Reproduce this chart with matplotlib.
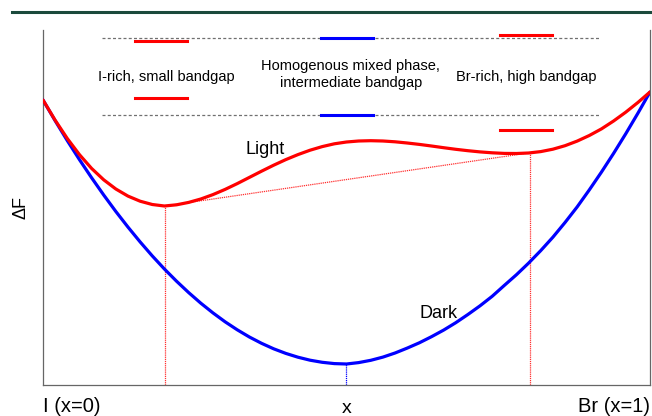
import numpy as np
import matplotlib
matplotlib.use('Agg')
import matplotlib.pyplot as plt
from matplotlib.lines import Line2D

plt.rcParams['font.family'] = ['Liberation Sans', 'DejaVu Sans']

# composition x (I -> Br), step 0.02, and free energy (arbitrary units)
comp = [round(0.02 * i, 2) for i in range(51)]
dark_F = [285, 264.3, 244.4, 225.4, 207.3, 190, 173.5, 157.9, 143.1, 129.1,
          116, 103.8, 92.4, 81.8, 72.1, 63.2, 55.2, 48, 41.7, 36.2,
          31.6, 27.8, 24.8, 22.7, 21.4, 21,
          22.4, 24.7, 27.9, 32, 36.9, 42.2, 48.3, 54.9, 62.3, 70.5,
          79.2, 88.7, 99.6, 110.3, 121.9, 134.4, 147.8, 162.5, 178.1, 195.1,
          212.9, 231.6, 251.2, 271.7, 293]
light_F = [285, 264.8, 246.5, 230.4, 216.6, 205.2, 196, 188.9, 183.8, 180.5,
           179, 180.2, 182.6, 186, 190.4, 195.6, 201.4, 207.6, 213.8, 219.8,
           225.4, 230.4, 234.8, 238.4, 241.2, 243, 244, 244.3, 244, 243.2,
           242, 240.6, 239, 237.3, 235.7, 234.3, 233.1, 232.2, 231.6, 231.5,
           232, 233.4, 235.8, 239.3, 243.9, 249.5, 256.1, 264, 272.8, 282.5, 293]

# common tangent and the compositions it picks out
tangent_x = [0.201, 0.802]
tangent_F = [179.0, 232.2]
dark_min_x = 0.5
dark_min_F = 21

# band-gap sketch at the top
dash_x = [0.097, 0.918]
dash_F = [347.3, 270]
bar_x = [[0.152, 0.238], [0.458, 0.544], [0.753, 0.839]]
bar_top_F = [344.3, 347.3, 350]
bar_low_F = [286.7, 270, 255]
bar_colors = ['red', 'blue', 'red']
phase_labels = ['I-rich, small bandgap',
                'Homogenous mixed phase,\nintermediate bandgap',
                'Br-rich, high bandgap']
phase_label_x = [0.203, 0.507, 0.796]
phase_label_F = [308.3, 310.5, 308.3]

fig = plt.figure(figsize=(6.52, 4.16), dpi=100)
ax = fig.add_axes([43/652, 31/416, 607/652, 355/416])

ax.plot(comp, dark_F, color='blue', lw=2.3, solid_capstyle='round', solid_joinstyle='round', zorder=3)
ax.plot(comp, light_F, color='red', lw=2.3, solid_capstyle='round', solid_joinstyle='round', zorder=3)

ax.plot(tangent_x, tangent_F, color='#ff3030', lw=0.9, dashes=(1, 0.7), zorder=2)
for tx, tf in zip(tangent_x, tangent_F):
    ax.plot([tx, tx], [0, tf], color='#ff3030', lw=0.9, dashes=(1, 0.7), zorder=2)
ax.plot([dark_min_x, dark_min_x], [0, dark_min_F], color='blue', lw=0.9, dashes=(1, 0.7), zorder=2)

for f in dash_F:
    ax.plot(dash_x, [f, f], color='#707070', lw=0.9, dashes=(2.4, 1.8), zorder=1)
for bx, ft, fl, c in zip(bar_x, bar_top_F, bar_low_F, bar_colors):
    ax.plot(bx, [ft, ft], color=c, lw=2.2, zorder=2)
    ax.plot(bx, [fl, fl], color=c, lw=2.2, zorder=2)
for lab, lx, lf in zip(phase_labels, phase_label_x, phase_label_F):
    ax.text(lx, lf, lab, ha='center', va='center', fontsize=10.5, linespacing=1.2)

ax.text(0.366, 235, 'Light', ha='center', va='center', fontsize=13)
ax.text(0.652, 71, 'Dark', ha='center', va='center', fontsize=13)

ax.set_xlim(0, 1)
ax.set_ylim(0, 355)
ax.set_yticks([])
ax.set_xticks([0, 1], ['I (x=0)', 'Br (x=1)'], fontsize=14.5)
ax.tick_params(axis='x', length=0, pad=9)
tl = ax.get_xticklabels()
tl[0].set_ha('left')
tl[1].set_ha('right')
ax.set_xlabel('x', fontsize=14)
ax.xaxis.set_label_coords(0.5, -0.041)
ax.set_ylabel('ΔF', fontsize=13, labelpad=10)

for s in ['left', 'bottom', 'right']:
    ax.spines[s].set_color('#666666')
    ax.spines[s].set_linewidth(0.9)
ax.spines['top'].set_visible(False)

# dark green rule across the top
fig.add_artist(Line2D([12/652, 1.0], [404/416, 404/416], color='#1b4a3c', lw=2.2))

fig.savefig('out.png', dpi=100)
